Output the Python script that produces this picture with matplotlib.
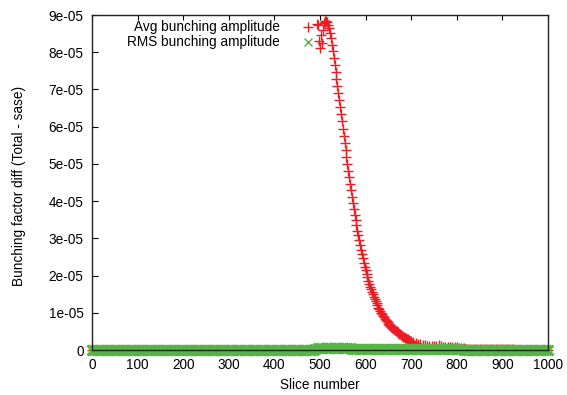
import numpy as np
import matplotlib
matplotlib.use("Agg")
import matplotlib.pyplot as plt

plt.rcParams['font.family'] = ['Liberation Sans', 'DejaVu Sans']
plt.rcParams['font.size'] = 9.8

SCALE = 1e-05

# Avg bunching amplitude (units of 1e-05)
avg_slices_flat = np.arange(0, 494, 5)
avg_flat = np.zeros(len(avg_slices_flat))

avg_slices_peak = np.arange(494, 602, 2)
avg_peak = [8.76, 8.72, 8.30, 8.12, 8.45, 8.25, 8.60, 8.78, 8.82, 8.84,
            8.83, 8.80, 8.74, 8.65, 8.52, 8.38, 8.20, 8.02, 7.85, 7.66,
            7.47, 7.29, 7.10, 6.91, 6.73, 6.54, 6.35, 6.14, 5.95, 5.76,
            5.56, 5.37, 5.18, 4.99, 4.81, 4.64, 4.46, 4.29, 4.12, 3.96,
            3.80, 3.64, 3.49, 3.35, 3.21, 3.08, 2.95, 2.82, 2.70, 2.58,
            2.46, 2.35, 2.24, 2.14]

avg_slices_mid = np.arange(602, 701, 2)
avg_mid = [2.04, 1.95, 1.86, 1.78, 1.70, 1.63, 1.56, 1.50, 1.43, 1.37,
           1.31, 1.25, 1.20, 1.14, 1.10, 1.05, 1.00, 0.96, 0.92, 0.88,
           0.84, 0.81, 0.77, 0.74, 0.71, 0.68, 0.65, 0.62, 0.60, 0.58,
           0.56, 0.54, 0.52, 0.50, 0.48, 0.46, 0.44, 0.42, 0.40, 0.38,
           0.36, 0.35, 0.33, 0.32, 0.30, 0.29, 0.28, 0.27, 0.25, 0.24]

avg_slices_tail = np.arange(705, 1001, 5)
avg_tail = [0.21, 0.19, 0.17, 0.15, 0.14, 0.13, 0.12, 0.12, 0.11, 0.10,
            0.11, 0.13, 0.10, 0.09, 0.08, 0.08, 0.07, 0.08, 0.09, 0.07,
            0.06, 0.05, 0.05, 0.04, 0.04, 0.04, 0.03, 0.03, 0.03, 0.03,
            0.03, 0.02, 0.02, 0.02, 0.02, 0.02, 0.02, 0.02, 0.02, 0.02,
            0.02, 0.02, 0.02, 0.02, 0.02, 0.01, 0.01, 0.01, 0.01, 0.01,
            0.01, 0.01, 0.01, 0.01, 0.01, 0.01, 0.01, 0.01, 0.01, 0.01]

# RMS bunching amplitude (units of 1e-05), every 5 slices
rms_slices = np.arange(0, 1001, 5)
rms = [0.010, 0.012, 0.011, 0.010, 0.009, 0.011, 0.012, 0.010, 0.011, 0.010,
       0.011, 0.010, 0.009, 0.011, 0.012, 0.010, 0.011, 0.010, 0.012, 0.011,
       0.010, 0.011, 0.012, 0.010, 0.009, 0.011, 0.010, 0.012, 0.011, 0.010,
       0.011, 0.010, 0.012, 0.011, 0.010, 0.009, 0.011, 0.012, 0.010, 0.011,
       0.010, 0.011, 0.012, 0.010, 0.011, 0.010, 0.009, 0.011, 0.012, 0.010,
       0.011, 0.010, 0.012, 0.011, 0.010, 0.011, 0.012, 0.010, 0.009, 0.011,
       0.010, 0.012, 0.011, 0.010, 0.011, 0.010, 0.012, 0.011, 0.010, 0.009,
       0.011, 0.012, 0.010, 0.011, 0.010, 0.011, 0.012, 0.010, 0.011, 0.010,
       0.009, 0.011, 0.012, 0.010, 0.011, 0.010, 0.012, 0.011, 0.010, 0.011,
       0.012, 0.010, 0.009, 0.011, 0.010, 0.012, 0.011, 0.012, 0.020, 0.055,
       0.060, 0.058, 0.050, 0.048, 0.052, 0.055, 0.055, 0.053, 0.050, 0.048,
       0.046, 0.045, 0.044, 0.042, 0.040, 0.040, 0.038, 0.037, 0.036, 0.035,
       0.034, 0.033, 0.032, 0.031, 0.030, 0.030, 0.029, 0.028, 0.028, 0.027,
       0.027, 0.026, 0.026, 0.025, 0.025, 0.024, 0.024, 0.023, 0.023, 0.022,
       0.022, 0.021, 0.021, 0.020, 0.020, 0.020, 0.019, 0.019, 0.018, 0.018,
       0.018, 0.017, 0.017, 0.017, 0.016, 0.016, 0.016, 0.015, 0.015, 0.015,
       0.014, 0.014, 0.014, 0.013, 0.013, 0.013, 0.013, 0.012, 0.012, 0.012,
       0.012, 0.012, 0.011, 0.011, 0.011, 0.011, 0.011, 0.011, 0.010, 0.010,
       0.010, 0.010, 0.010, 0.010, 0.010, 0.010, 0.010, 0.010, 0.010, 0.010,
       0.010, 0.010, 0.010, 0.010, 0.010, 0.010, 0.010, 0.010, 0.010, 0.010,
       0.010]

x_ticks = np.arange(0, 1001, 100)
y_ticks = np.arange(0, 10) * SCALE
y_tick_labels = ['0', '1e-05', '2e-05', '3e-05', '4e-05', '5e-05',
                 '6e-05', '7e-05', '8e-05', '9e-05']

red = '#ec1c24'
green = '#56b447'

avg_x = np.concatenate([avg_slices_flat, avg_slices_peak, avg_slices_mid, avg_slices_tail])
avg_y = np.concatenate([avg_flat, avg_peak, avg_mid, avg_tail]) * SCALE
rms_y = np.array(rms) * SCALE

fig = plt.figure(figsize=(5.67, 3.95), dpi=100)
ax = fig.add_axes([0.1623, 0.1139, 0.8042, 0.8481])

ax.plot(avg_x, avg_y, linestyle='none', marker='+', ms=6.5, mew=1.0,
        color=red, clip_on=False)
ax.plot(rms_slices, rms_y, linestyle='none', marker='x', ms=7, mew=2.0,
        color=green, clip_on=False)

ax.set_xlim(0, 1000)
ax.set_ylim(0, 9e-05)
ax.set_xticks(x_ticks)
ax.set_yticks(y_ticks)
ax.set_yticklabels(y_tick_labels)

ax.tick_params(axis='x', direction='in', top=True, length=3.5, width=0.8, pad=6)
ax.tick_params(axis='y', direction='in', right=False, length=4.3, width=0.8, pad=6)
for s in ax.spines.values():
    s.set_linewidth(1.0)
    s.set_color('#222222')
    s.set_zorder(3)

ax.set_xlabel('Slice number')
ax.xaxis.set_label_coords(0.5, -0.085)
ax.set_ylabel('Bunching factor diff (Total - sase)')
ax.yaxis.set_label_coords(-0.145, 0.49)

# key, gnuplot style: text right-aligned, sample to the right
ax.text(0.412, 0.964, 'Avg bunching amplitude', transform=ax.transAxes,
        ha='right', va='center')
ax.text(0.412, 0.919, 'RMS bunching amplitude', transform=ax.transAxes,
        ha='right', va='center')
ax.plot([0.474], [0.964], transform=ax.transAxes, marker='+', ms=6.5,
        mew=1.0, color=red, linestyle='none')
ax.plot([0.474], [0.919], transform=ax.transAxes, marker='x', ms=5.5,
        mew=1.0, color=green, linestyle='none')

fig.savefig('out.png', dpi=100)
